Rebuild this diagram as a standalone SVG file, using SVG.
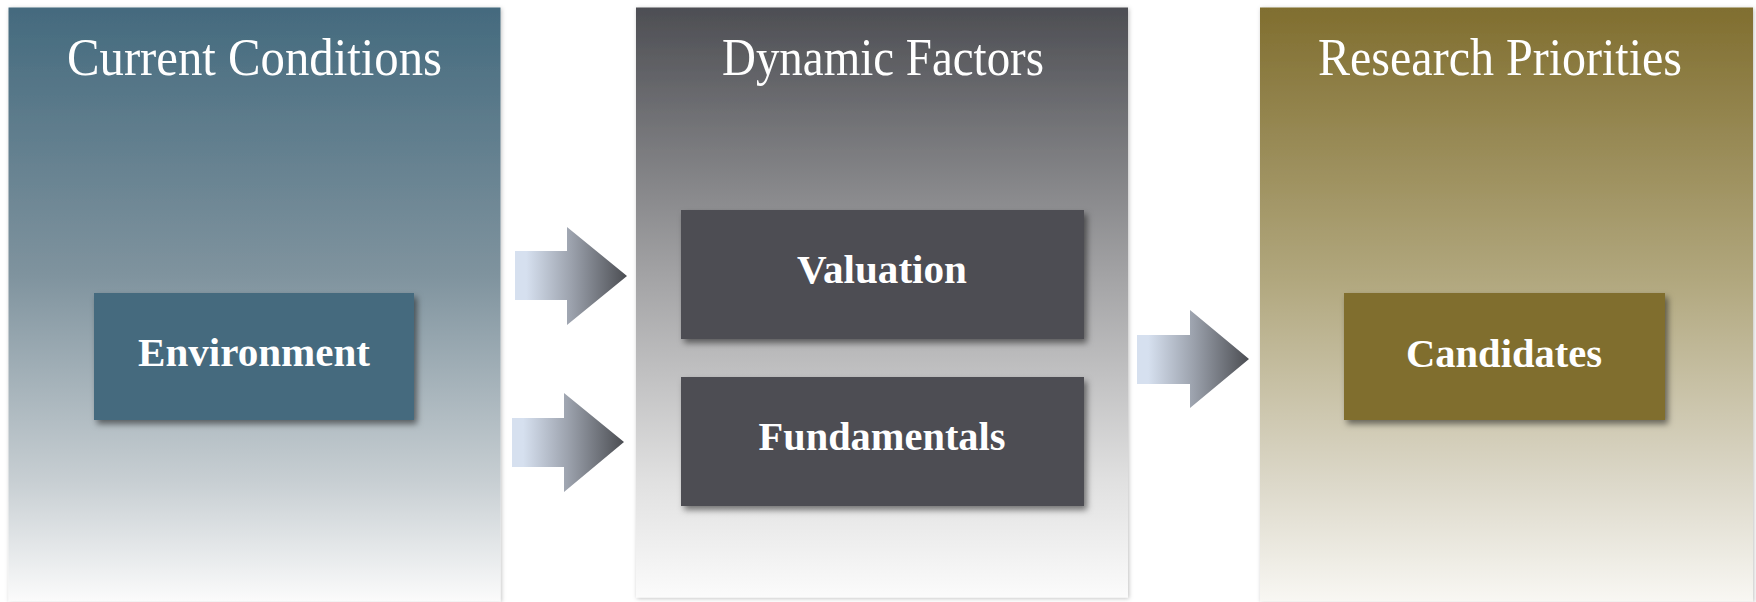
<svg xmlns="http://www.w3.org/2000/svg" width="1756" height="602" viewBox="0 0 1756 602">
<defs>
<linearGradient id="g1" x1="0" y1="0" x2="0" y2="1">
<stop offset="0" stop-color="#446a7e"/>
<stop offset="0.45" stop-color="#7f939e"/>
<stop offset="0.8" stop-color="#c8cfd3"/>
<stop offset="1" stop-color="#fbfbfb"/>
</linearGradient>
<linearGradient id="g2" x1="0" y1="0" x2="0" y2="1">
<stop offset="0" stop-color="#4d4e53"/>
<stop offset="0.45" stop-color="#a2a2a4"/>
<stop offset="0.8" stop-color="#e0e0e0"/>
<stop offset="1" stop-color="#fbfbfb"/>
</linearGradient>
<linearGradient id="g3" x1="0" y1="0" x2="0" y2="1">
<stop offset="0" stop-color="#806e2f"/>
<stop offset="0.45" stop-color="#b0a67c"/>
<stop offset="0.8" stop-color="#dcd8c9"/>
<stop offset="1" stop-color="#f8f7f3"/>
</linearGradient>
<linearGradient id="ga" x1="0" y1="0" x2="1" y2="0">
<stop offset="0.1" stop-color="#d6e0ef"/>
<stop offset="0.5" stop-color="#9ca2ad"/>
<stop offset="1" stop-color="#4b4d52"/>
</linearGradient>
<filter id="ps" x="-5%" y="-5%" width="110%" height="110%">
<feDropShadow dx="1" dy="1" stdDeviation="2" flood-color="#000" flood-opacity="0.25"/>
</filter>
<filter id="bs" x="-10%" y="-10%" width="120%" height="130%">
<feDropShadow dx="3" dy="4" stdDeviation="3" flood-color="#000" flood-opacity="0.5"/>
</filter>
</defs>
<style>
.title{font-family:"Liberation Serif","Times New Roman",serif;font-size:52px;fill:#ffffff;text-anchor:middle}
.lbl{font-family:"Liberation Serif","Times New Roman",serif;font-size:40px;font-weight:bold;fill:#ffffff;text-anchor:middle}
.box{filter:url(#bs)}
.panel{filter:url(#ps)}
</style>
<g id="panel-current-conditions">
<rect class="panel" x="8.5" y="7.5" width="492" height="594" fill="url(#g1)"/>
<text class="title" x="254.5" y="75" textLength="375" lengthAdjust="spacingAndGlyphs">Current Conditions</text>
</g>
<g id="panel-dynamic-factors">
<rect class="panel" x="636" y="7.5" width="492" height="590" fill="url(#g2)"/>
<text class="title" x="883" y="75" textLength="322" lengthAdjust="spacingAndGlyphs">Dynamic Factors</text>
</g>
<g id="panel-research-priorities">
<rect class="panel" x="1260" y="7.5" width="493" height="594" fill="url(#g3)"/>
<text class="title" x="1500" y="75" textLength="364" lengthAdjust="spacingAndGlyphs">Research Priorities</text>
</g>
<g id="node-environment">
<rect class="box" x="94" y="293" width="320" height="127" fill="#456a7e"/>
<text class="lbl" x="254" y="366" textLength="232" lengthAdjust="spacingAndGlyphs">Environment</text>
</g>
<g id="node-valuation">
<rect class="box" x="681" y="210" width="403" height="129" fill="#4d4e53"/>
<text class="lbl" x="882" y="283" textLength="170" lengthAdjust="spacingAndGlyphs">Valuation</text>
</g>
<g id="node-fundamentals">
<rect class="box" x="681" y="377" width="403" height="129" fill="#4d4e53"/>
<text class="lbl" x="882" y="450" textLength="247" lengthAdjust="spacingAndGlyphs">Fundamentals</text>
</g>
<g id="node-candidates">
<rect class="box" x="1344" y="293" width="321" height="127" fill="#806e2f"/>
<text class="lbl" x="1504" y="367" textLength="196" lengthAdjust="spacingAndGlyphs">Candidates</text>
</g>
<g id="connectors">
<polygon points="515,251 567,251 567,227 627,276 567,325 567,300 515,300" fill="url(#ga)"/>
<polygon points="512,418 564,418 564,393 624,442 564,492 564,467 512,467" fill="url(#ga)"/>
<polygon points="1137,335 1190,335 1190,310 1249,359 1190,408 1190,384 1137,384" fill="url(#ga)"/>
</g>
</svg>
